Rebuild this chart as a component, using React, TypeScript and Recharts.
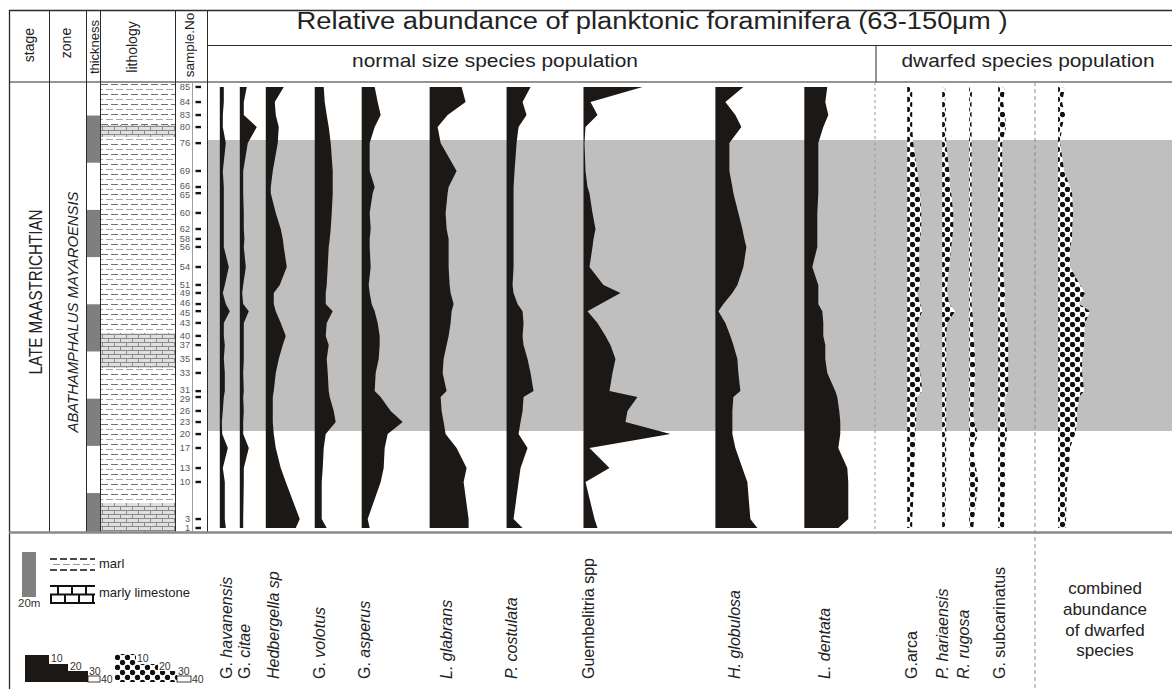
import React from "react";
import { Area, ComposedChart, ReferenceArea, XAxis, YAxis } from "recharts";

// samples, top of the section first
const SAMPLE_NO = [85, 84, 83, 80, 76, 69, 66, 65, 60, 62, 58, 56, 54, 51, 49, 46, 45, 43, 40, 37, 35, 33, 31, 29, 26, 23, 20, 17, 13, 10, 3, 1];
// metres above the base of the section
const HEIGHT_M = [188.6, 182.2, 176.7, 171.6, 164.8, 153.0, 146.2, 143.6, 135.2, 128.4, 124.2, 120.8, 112.3, 104.7, 101.3, 96.6, 93.6, 88.6, 83.1, 79.2, 73.3, 67.4, 59.7, 57.2, 51.3, 46.6, 41.5, 35.6, 27.1, 21.2, 5.5, 1.7];

// relative abundance (%), normal size species
const HAVANENSIS = [2, 2, 1.5, 1.5, 3, 1.5, 2, 2, 2, 2, 2, 2, 4.5, 2.5, 1.5, 3, 5, 2, 2, 2.5, 2, 2.5, 2.5, 2, 1.5, 1, 1.2, 4, 1.5, 2.5, 2.5, 3];
const CITAE = [3.5, 2, 2, 8.5, 4, 1.7, 1.7, 1.7, 2, 2, 2.3, 2, 3, 1.7, 1.2, 1.7, 4.5, 2, 2, 2, 2, 1.7, 2, 1.7, 2, 1.7, 1.7, 4.5, 2, 2, 1.7, 1.7];
const HEDBERGELLA = [9, 4.5, 5, 6.5, 6, 3.5, 2.5, 2.5, 5, 7.5, 8.5, 9, 10.5, 7, 4, 4, 5, 7.5, 10, 8.5, 6.5, 5, 4, 3.5, 3.5, 3.5, 4, 5, 7.5, 10, 17, 15];
const VOLOTUS = [4.5, 5, 6, 7, 8, 9, 9, 9, 8.5, 8, 7.5, 7, 6.5, 6, 5.5, 5.5, 9, 6, 5.5, 7, 6, 6.5, 7, 7.5, 9.5, 10.5, 5.5, 4.5, 4, 3.5, 3.5, 6];
const ASPERUS = [6.5, 8, 9.5, 6.5, 4, 4, 6.5, 5.5, 4, 4.5, 4, 4, 4.5, 3.5, 4, 5, 6.5, 8, 9, 9, 8.5, 7, 6.5, 9.5, 14.5, 20.5, 13, 11.5, 11, 9.5, 3, 4];
const GLABRANS = [16, 18, 9, 4, 5.5, 13.5, 9.5, 9, 8, 8.5, 9.5, 9.5, 9.5, 10, 10.5, 12, 11, 10.5, 9.5, 8.5, 7, 6.5, 8.5, 5.5, 6, 7, 8, 13.5, 18.5, 17, 19.5, 19.5];
const COSTULATA = [12, 8, 10, 6, 5, 4, 3.5, 3.5, 3.5, 3.5, 3.5, 3.5, 3.5, 3, 3.5, 5.5, 8, 8.5, 8, 8.5, 10.5, 12, 13.5, 8.5, 8, 7, 6, 10.5, 7, 6, 3.5, 8];
const GUEMBELITRIA = [29.5, 3.5, 7, 1, 0.5, 1, 2, 3, 4.5, 6, 5, 4.5, 3, 10, 18.5, 8.5, 2, 7, 11, 13.5, 16, 14.5, 13, 27, 22, 21, 43.5, 3, 13, 1, 5.5, 7];
const GLOBULOSA = [14, 5, 10, 13, 7, 7, 8.5, 9, 11.5, 13.5, 14.5, 15.5, 14, 11, 8.5, 4, 1.5, 5, 7.5, 9, 11, 11.5, 12.5, 9, 8.5, 8.5, 8.5, 10, 13.5, 16, 17.5, 21];
const DENTATA = [11.5, 10.5, 12, 9.5, 7, 7, 7, 7, 6.5, 6.5, 6.5, 6.5, 4, 7, 7, 7, 9, 9.5, 9.5, 10.5, 10.5, 11.5, 15.5, 16.5, 17.5, 18, 18, 17, 21.5, 22, 22, 17];

// dwarfed species
const ARCA = [2.5, 2.5, 2.5, 2.5, 3, 5, 6, 6.5, 7, 7, 6.5, 6, 6, 6.5, 5, 6.5, 7.5, 5, 5, 6.5, 5, 6.5, 7.5, 5, 4.5, 4.5, 4, 4, 3.5, 3.5, 2.5, 2.5];
const HARIAENSIS = [1.5, 1.5, 2, 2, 2, 3.5, 4, 4.5, 5.5, 5.5, 5, 4.5, 3.5, 2.5, 2.5, 3.5, 6.5, 2.5, 2, 2, 2, 2, 2, 2, 2, 2, 2, 2, 2, 2, 1.5, 1.5];
const RUGOSA = [1.5, 1.2, 1.2, 1.2, 1.2, 1.2, 1.2, 1.2, 1.2, 1.2, 1.2, 1.2, 1.2, 1.2, 1.2, 1.2, 1.5, 2, 2, 2.5, 3, 3, 2.5, 2.5, 2, 2.5, 4.5, 2, 3.5, 4.5, 2.5, 2];
const SUBCARINATUS = [3.5, 2.5, 3.5, 4, 2, 2, 2.5, 2.5, 2.5, 2.5, 2.5, 2.5, 2.5, 3, 3.5, 3, 3.5, 4.5, 5, 5, 5, 5, 5, 3.5, 3, 4, 4.5, 3.5, 3.5, 3.5, 3, 3];
const COMBINED = [3.5, 2, 3.5, 2, 1, 3, 6, 7, 7.5, 7, 7, 6, 6, 11, 13.5, 10.5, 16, 13.5, 13, 13, 12, 12, 13, 10.5, 9.5, 9.5, 8.5, 6, 5.5, 4.5, 4, 4];

// lithology / thickness intervals (m)
const LIMESTONE_M = [[0, 12.3], [69.5, 84.3], [167.4, 172.5]];
const MARL_M = [[12.3, 69.5], [84.3, 167.4], [172.5, 190.7]];
const THICKNESS_M = [[0, 16.5], [36.5, 56.5], [76.5, 96.5], [116.5, 136.5], [156.5, 176.5]];
const GRAY_BAND_M = [42.8, 166.1];

// layout
const PAGE_W = 1172;
const PAGE_H = 689;
const PLOT_TOP = 82;
const PLOT_H = 450;
const TOP_M = 190.7;
const PX_PER_PCT = 2;
const BLACK = "#1c1815";
const FONT = '"Liberation Sans", Arial, sans-serif';

const SERIES = [
  { key: "hav", data: HAVANENSIS, x: 219 },
  { key: "cit", data: CITAE, x: 239 },
  { key: "hed", data: HEDBERGELLA, x: 265 },
  { key: "vol", data: VOLOTUS, x: 314 },
  { key: "asp", data: ASPERUS, x: 361 },
  { key: "gla", data: GLABRANS, x: 429 },
  { key: "cos", data: COSTULATA, x: 506 },
  { key: "gue", data: GUEMBELITRIA, x: 583 },
  { key: "glo", data: GLOBULOSA, x: 715 },
  { key: "den", data: DENTATA, x: 804 },
  { key: "arc", data: ARCA, x: 907, dwarf: true },
  { key: "har", data: HARIAENSIS, x: 942, dwarf: true },
  { key: "rug", data: RUGOSA, x: 969, dwarf: true },
  { key: "sub", data: SUBCARINATUS, x: 998, dwarf: true },
  { key: "com", data: COMBINED, x: 1058, dwarf: true },
];

// [plain prefix, italic part, x of baseline]
const LABELS: [string, string, number][] = [
  ["G. ", "havanensis", 232],
  ["G. ", "citae", 250],
  ["", "Hedbergella sp", 279],
  ["G. ", "volotus", 325],
  ["G. ", "asperus", 370],
  ["", "L. glabrans", 452],
  ["", "P. costulata", 517],
  ["Guembelitria spp", "", 594],
  ["", "H. globulosa", 740],
  ["", "L. dentata", 830],
  ["G.arca", "", 917],
  ["", "P. hariaensis", 948],
  ["", "R. rugosa", 969],
  ["G. subcarinatus", "", 1005],
];

const rows = SAMPLE_NO.map((no, i) => {
  const r: Record<string, number> = { no, h: HEIGHT_M[i] };
  SERIES.forEach((s) => {
    r[s.key] = s.data[i];
  });
  return r;
});

function SampleTick(props: any) {
  const { y, payload } = props;
  const i = HEIGHT_M.indexOf(payload.value);
  // crowded pairs are pushed a little apart so the numbers stay readable
  const prev = HEIGHT_M[i - 1];
  const next = HEIGHT_M[i + 1];
  let dy = 0;
  if (prev !== undefined && prev - HEIGHT_M[i] < 3.2) dy += 1.6;
  if (next !== undefined && HEIGHT_M[i] - next < 3.2) dy -= 1.6;
  return (
    <g>
      <text x={190} y={Math.min(y + 3.2 + dy, PLOT_H - 1.5)} textAnchor="end" fontSize={9.2} fill="#555" fontFamily={FONT}>
        {SAMPLE_NO[i]}
      </text>
      <line x1={195.5} x2={201} y1={y} y2={y} stroke="#111" strokeWidth={2.4} />
    </g>
  );
}

function VText({ x, y, size, children, anchor = "middle", len, italic }: any) {
  return (
    <text
      x={x}
      y={y}
      transform={`rotate(-90 ${x} ${y})`}
      textAnchor={anchor}
      fontSize={size}
      fill="#222"
      fontStyle={italic ? "italic" : "normal"}
      textLength={len}
      lengthAdjust={len ? "spacingAndGlyphs" : undefined}
    >
      {children}
    </text>
  );
}

function Overlay() {
  const ln = "#2a2a2a";
  return (
    <svg width={PAGE_W} height={PAGE_H} style={{ position: "absolute", left: 0, top: 0, pointerEvents: "none" }}>
      <defs>
        <pattern id="marl" width="10" height="10" patternUnits="userSpaceOnUse">
          <rect width="10" height="10" fill="#fff" />
          <line x1="1" x2="8" y1="2.5" y2="2.5" stroke="#6f6f6f" strokeWidth="1" />
          <line x1="6" x2="10" y1="7.5" y2="7.5" stroke="#a5a5a5" strokeWidth="1" />
          <line x1="0" x2="3" y1="7.5" y2="7.5" stroke="#a5a5a5" strokeWidth="1" />
        </pattern>
        <pattern id="lime" width="12" height="8" patternUnits="userSpaceOnUse">
          <rect width="12" height="8" fill="#e0e0e0" />
          <line x1="0" x2="12" y1="0.5" y2="0.5" stroke="#8a8a8a" />
          <line x1="0" x2="12" y1="4.5" y2="4.5" stroke="#8a8a8a" />
          <line x1="0.5" x2="0.5" y1="0" y2="4" stroke="#8a8a8a" />
          <line x1="6.5" x2="6.5" y1="4" y2="8" stroke="#8a8a8a" />
        </pattern>
        <pattern id="dots" width="10" height="10" patternUnits="userSpaceOnUse">
          <rect width="10" height="10" fill="#fff" />
          <circle cx="2.5" cy="2.5" r="2.7" fill="#111" />
          <circle cx="7.5" cy="7.5" r="2.7" fill="#111" />
        </pattern>
      </defs>

      {/* frame */}
      <line x1={9} x2={PAGE_W} y1={10.5} y2={10.5} stroke={ln} strokeWidth={1.3} />
      <line x1={9.5} x2={9.5} y1={10} y2={PAGE_H} stroke={ln} strokeWidth={1.3} />
      <line x1={207} x2={PAGE_W} y1={45.5} y2={45.5} stroke={ln} />
      <line x1={9} x2={PAGE_W} y1={82} y2={82} stroke={ln} strokeWidth={1.2} />
      {[49.5, 86.5, 100.5, 175.5, 207.5].map((x) => (
        <line key={x} x1={x} x2={x} y1={10} y2={532} stroke={ln} />
      ))}
      <line x1={192.5} x2={192.5} y1={82} y2={532} stroke="#888" strokeWidth={0.8} />
      <line x1={876} x2={876} y1={45} y2={82} stroke={ln} />
      <line x1={875} x2={875} y1={82} y2={531} stroke="#9a9a9a" strokeDasharray="3 3" />
      <line x1={1035} x2={1035} y1={82} y2={PAGE_H} stroke="#8a8a8a" strokeDasharray="4 3" />
      <line x1={9} x2={PAGE_W} y1={532.5} y2={532.5} stroke="#8a8a8a" strokeWidth={2.5} />

      {/* header */}
      <VText x={34} y={45} size={14}>stage</VText>
      <VText x={71} y={43} size={14}>zone</VText>
      <VText x={99} y={47} size={13}>thickness</VText>
      <VText x={137} y={47} size={14}>lithology</VText>
      <VText x={194} y={45} size={13.5}>sample.No</VText>
      <text x={652} y={29} textAnchor="middle" fontSize={23} fill="#222" textLength={711} lengthAdjust="spacingAndGlyphs">
        Relative abundance of planktonic foraminifera (63-150μm )
      </text>
      <text x={495} y={67} textAnchor="middle" fontSize={19} fill="#222" textLength={286} lengthAdjust="spacingAndGlyphs">
        normal size species population
      </text>
      <text x={1028} y={67} textAnchor="middle" fontSize={19} fill="#222" textLength={253} lengthAdjust="spacingAndGlyphs">
        dwarfed species population
      </text>

      {/* stage and zone */}
      <VText x={42} y={292} size={19} len={165}>LATE MAASTRICHTIAN</VText>
      <VText x={78} y={312} size={15} len={241} italic>ABATHAMPHALUS MAYAROENSIS</VText>

      {/* species names */}
      {LABELS.map(([plain, ital, x]) => (
        <text key={x} x={x} y={679} transform={`rotate(-90 ${x} 679)`} fontSize={16} fill="#222">
          {plain ? <tspan>{plain}</tspan> : null}
          {ital ? <tspan fontStyle="italic">{ital}</tspan> : null}
        </text>
      ))}
      <text x={1105} fontSize={17} fill="#222" textAnchor="middle">
        <tspan x={1105} y={594}>combined</tspan>
        <tspan x={1105} y={615}>abundance</tspan>
        <tspan x={1105} y={636}>of dwarfed</tspan>
        <tspan x={1105} y={656}>species</tspan>
      </text>

      {/* legend */}
      <rect x={22} y={552} width={14} height={45} fill="#808080" />
      <text x={18} y={607} fontSize={11.5} fill="#333">20m</text>
      <rect x={50} y={556} width={45} height={17} fill="#fff" />
      <line x1={50} x2={95} y1={559} y2={559} stroke="#111" strokeWidth={1.3} strokeDasharray="7 3" />
      <line x1={53} x2={95} y1={564.5} y2={564.5} stroke="#999" strokeWidth={1} strokeDasharray="7 3" />
      <line x1={50} x2={95} y1={570} y2={570} stroke="#111" strokeWidth={1.3} strokeDasharray="7 3" />
      <text x={99} y={568} fontSize={13} fill="#222">marl</text>
      <g stroke="#111" strokeWidth={2}>
        <line x1={50} x2={95} y1={586} y2={586} />
        <line x1={50} x2={95} y1={594.5} y2={594.5} />
        <line x1={50} x2={95} y1={603} y2={603} />
        {[58, 72, 86].map((x) => (
          <line key={x} x1={x} x2={x} y1={586} y2={594.5} />
        ))}
        {[51, 65, 79, 93].map((x) => (
          <line key={x} x1={x} x2={x} y1={594.5} y2={603} />
        ))}
      </g>
      <text x={99} y={597} fontSize={13} fill="#222">marly limestone</text>

      <polygon points="25,655 49,655 49,664 68,664 68,671 88,671 88,682 25,682" fill={BLACK} />
      <rect x={88} y={676} width={12} height={6} fill="#fff" stroke="#111" strokeWidth={0.8} />
      <polygon points="115,654 136,654 136,664 158,664 158,671 177,671 177,682 115,682" fill="url(#dots)" />
      <rect x={177} y={676} width={14} height={6} fill="#fff" stroke="#111" strokeWidth={0.8} />
      <g fontSize={10.5} fill="#333">
        <text x={51} y={662}>10</text>
        <text x={70} y={670}>20</text>
        <text x={89} y={675}>30</text>
        <text x={101} y={683}>40</text>
        <text x={137} y={662}>10</text>
        <text x={159} y={670}>20</text>
        <text x={178} y={675}>30</text>
        <text x={192} y={683}>40</text>
      </g>
    </svg>
  );
}

export default function App() {
  return (
    <div style={{ position: "absolute", left: 0, top: 0, width: PAGE_W, height: PAGE_H, background: "#fff", fontFamily: FONT, overflow: "hidden" }}>
      <div style={{ position: "absolute", left: 0, top: PLOT_TOP }}>
        <ComposedChart width={PAGE_W} height={PLOT_H} layout="vertical" data={rows} margin={{ top: 0, right: 0, bottom: 0, left: 0 }}>
          <XAxis xAxisId="px" type="number" domain={[0, PAGE_W]} hide allowDataOverflow />
          {SERIES.map((s) => (
            <XAxis
              key={s.key}
              xAxisId={s.key}
              type="number"
              domain={[-s.x / PX_PER_PCT, (PAGE_W - s.x) / PX_PER_PCT]}
              hide
              allowDataOverflow
            />
          ))}
          <YAxis
            type="number"
            dataKey="h"
            domain={[0, TOP_M]}
            reversed
            allowDataOverflow
            ticks={HEIGHT_M}
            interval={0}
            width={1}
            axisLine={false}
            tickLine={false}
            tick={SampleTick}
          />
          <ReferenceArea xAxisId="px" x1={207} x2={PAGE_W} y1={GRAY_BAND_M[0]} y2={GRAY_BAND_M[1]} fill="#bfbfbf" fillOpacity={1} stroke="none" />
          {MARL_M.map(([a, b]) => (
            <ReferenceArea key={"m" + a} xAxisId="px" x1={100} x2={175} y1={a} y2={b} fill="url(#marl)" fillOpacity={1} stroke="none" />
          ))}
          {LIMESTONE_M.map(([a, b]) => (
            <ReferenceArea key={"l" + a} xAxisId="px" x1={100} x2={175} y1={a} y2={b} fill="url(#lime)" fillOpacity={1} stroke="none" />
          ))}
          {THICKNESS_M.map(([a, b]) => (
            <ReferenceArea key={"t" + a} xAxisId="px" x1={86} x2={100} y1={a} y2={b} fill="#7f7f7f" fillOpacity={1} stroke="none" />
          ))}
          {SERIES.map((s) => (
            <Area
              key={s.key}
              xAxisId={s.key}
              dataKey={s.key}
              type="linear"
              baseValue={0}
              fill={s.dwarf ? "url(#dots)" : BLACK}
              fillOpacity={1}
              stroke="none"
              dot={false}
              activeDot={false}
              isAnimationActive={false}
            />
          ))}
        </ComposedChart>
      </div>
      <Overlay />
    </div>
  );
}
